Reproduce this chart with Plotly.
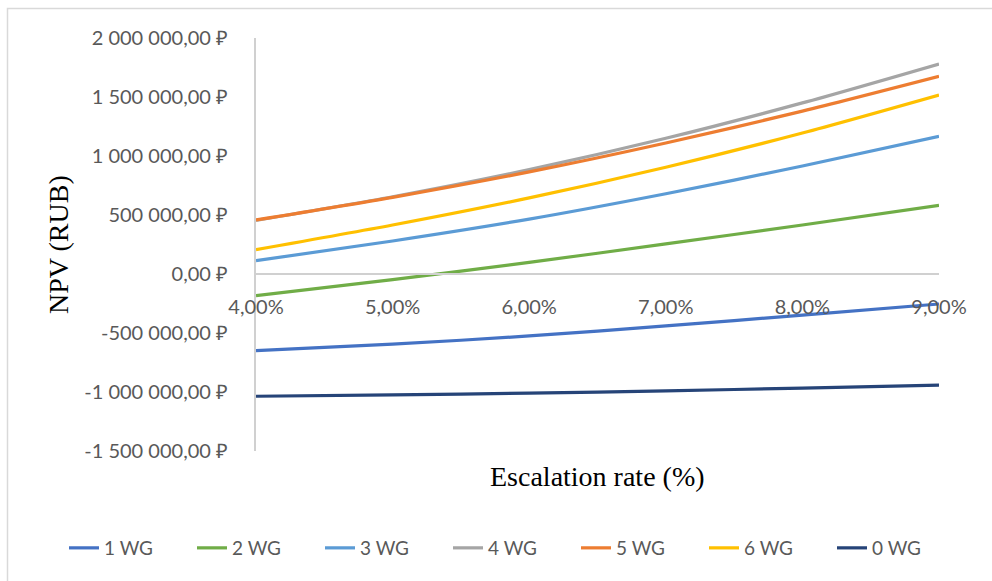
import plotly.graph_objects as go

# Escalation rate (as fractions) and NPV per scenario, RUB
escalation = [0.04, 0.05, 0.06, 0.07, 0.08, 0.09]

npv_1wg = [-650000, -595000, -525000, -440000, -348000, -254000]
npv_2wg = [-184000, -48000, 98000, 255000, 415000, 582000]
npv_3wg = [113000, 280000, 465000, 680000, 915000, 1167000]
npv_4wg = [455000, 655000, 885000, 1150000, 1450000, 1780000]
npv_5wg = [458000, 650000, 865000, 1110000, 1380000, 1675000]
npv_6wg = [206000, 415000, 645000, 905000, 1195000, 1517000]
npv_0wg = [-1036000, -1025000, -1010000, -990000, -967000, -941000]

series_names = ["1 WG", "2 WG", "3 WG", "4 WG", "5 WG", "6 WG", "0 WG"]
series_values = [npv_1wg, npv_2wg, npv_3wg, npv_4wg, npv_5wg, npv_6wg, npv_0wg]
series_colors = ["#4472C4", "#70AD47", "#5B9BD5", "#A5A5A5", "#ED7D31", "#FFC000", "#264478"]

# Value-axis ticks and their labels
y_ticks = [-1500000, -1000000, -500000, 0, 500000, 1000000, 1500000, 2000000]
y_tick_labels = ["-1 500 000,00 ₽", "-1 000 000,00 ₽", "-500 000,00 ₽", "0,00 ₽",
                 "500 000,00 ₽", "1 000 000,00 ₽", "1 500 000,00 ₽", "2 000 000,00 ₽"]
x_tick_labels = ["4,00%", "5,00%", "6,00%", "7,00%", "8,00%", "9,00%"]

W, H = 992, 581
L, R, T, B = 256, 939, 38, 451   # plot area in pixels
Y_MIN, Y_MAX = -1500000, 2000000


def px_x(px):
    return (px - L) / (R - L)


def px_y(py):
    return (B - py) / (B - T)


fig = go.Figure()
for name, vals, col in zip(series_names, series_values, series_colors):
    fig.add_trace(go.Scatter(
        x=escalation, y=vals, name=name, mode="lines",
        line=dict(color=col, width=3.2, shape="spline", smoothing=0.8),
    ))

axis_gray = "#595959"
line_gray = "#d0d0d0"

fig.update_layout(
    width=W, height=H,
    margin=dict(l=L, r=W - R, t=T, b=H - B, autoexpand=False),
    paper_bgcolor="white", plot_bgcolor="white",
    font=dict(family="Lato, 'Open Sans', sans-serif", color=axis_gray, size=20),
    xaxis=dict(
        range=[0.04, 0.09], tickvals=escalation, ticktext=x_tick_labels,
        showgrid=False, zeroline=False, showline=True, linecolor=line_gray, linewidth=2,
        anchor="free", position=(0 - Y_MIN) / (Y_MAX - Y_MIN),
        ticks="", ticklabelstandoff=15,
        tickfont=dict(family="Lato", size=20, color=axis_gray),
        automargin=False,
    ),
    yaxis=dict(
        range=[Y_MIN, Y_MAX], tickvals=y_ticks, ticktext=y_tick_labels,
        showgrid=False, zeroline=False, showline=True, linecolor=line_gray, linewidth=2,
        ticks="", ticklabelstandoff=22,
        tickfont=dict(family="Lato", size=20, color=axis_gray),
        automargin=False,
    ),
    showlegend=True,
    legend=dict(
        orientation="h", x=px_x(64), xanchor="left", y=px_y(548), yanchor="middle",
        entrywidth=83, entrywidthmode="pixels", itemwidth=30,
        font=dict(family="Lato", size=19, color=axis_gray),
        bgcolor="rgba(0,0,0,0)", traceorder="normal",
    ),
    annotations=[
        dict(text="Escalation rate (%)", xref="paper", yref="paper",
             x=0.5, y=px_y(476), xanchor="center", yanchor="middle", showarrow=False,
             font=dict(family="Liberation Serif, 'Times New Roman', serif", size=28, color="black")),
        dict(text="NPV (RUB)", xref="paper", yref="paper", textangle=-90,
             x=px_x(58), y=px_y(245), xanchor="center", yanchor="middle", showarrow=False,
             font=dict(family="Liberation Serif, 'Times New Roman', serif", size=28, color="black")),
    ],
    shapes=[
        dict(type="rect", xref="paper", yref="paper",
             x0=px_x(7.5), x1=px_x(1100), y0=px_y(700), y1=px_y(8.5),
             line=dict(color="#d9d9d9", width=1.5), fillcolor="rgba(0,0,0,0)", layer="below"),
    ],
)

fig.write_html("out.html")
